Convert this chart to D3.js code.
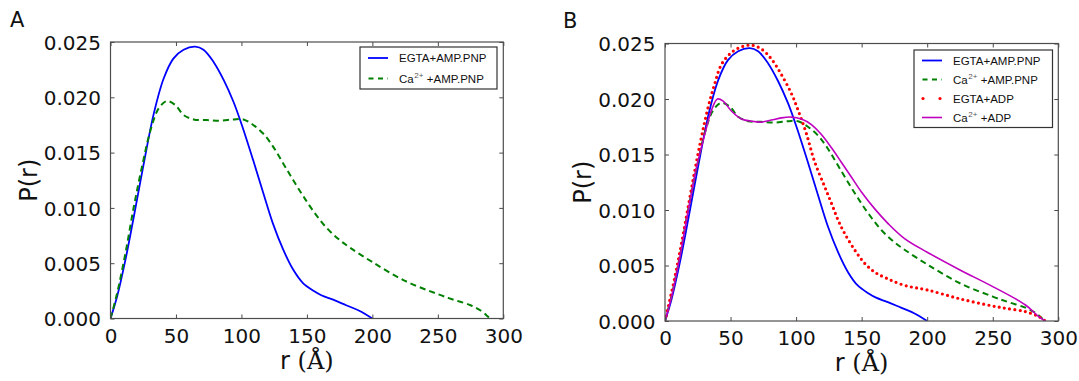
<!DOCTYPE html>
<html>
<head>
<meta charset="utf-8">
<script src="https://cdn.jsdelivr.net/npm/d3@7"></script>
<style>
html,body{margin:0;padding:0;background:#fff;}
svg{display:block;}
</style>
</head>
<body>
<svg id="chart" width="1079" height="381"></svg>
<script>
// ---- data ----
const xTicks = [0, 50, 100, 150, 200, 250, 300];
const yTicks = [0.000, 0.005, 0.010, 0.015, 0.020, 0.025];

const rEgtaAmp = [0,5,11.4,17.8,25.4,33,40.6,48,55.8,64.7,71,78.7,86.3,93.9,100.3,109,116.8,124,132,139.6,147,155,161,170,180,190,200];
const pEgtaAmp = [0,0.00196,0.0053,0.0092,0.014,0.0185,0.0217,0.0235,0.0243,0.02458,0.0243,0.0232,0.0216,0.0196,0.0175,0.0143,0.0113,0.0086,0.0062,0.0044,0.0032,0.0025,0.0021,0.0017,0.0012,0.0007,0];

const rCaAmp = [0,5,11.4,17.8,24,30.5,36.8,43,49.5,55.8,63.5,73.6,83.8,94,101.5,109,116.8,124.4,132,139.6,147,155,165,175,183,200,225,250,262,275,283,288,290];
const pCaAmp = [0,0.00226,0.0059,0.0101,0.0137,0.0170,0.0190,0.01966,0.0193,0.0184,0.0180,0.01794,0.01788,0.0180,0.0180,0.0175,0.0167,0.0155,0.0140,0.0125,0.0111,0.0097,0.0082,0.0071,0.0064,0.0051,0.0034,0.0022,0.0017,0.0012,0.0007,0.0002,0];

const rEgtaAdp = [0,7.6,14,20.3,26.6,33,38,43,50.8,58.4,66,73.6,81.2,88.8,96.4,101.5,107.8,114,121.8,127,132,137,144.7,152.3,160,170,183,200,225,250,260,275,285,290];
const pEgtaAdp = [0,0.0040,0.0079,0.0120,0.0159,0.0193,0.0214,0.0231,0.0242,0.0247,0.02485,0.0245,0.0236,0.0222,0.0205,0.019,0.0169,0.0144,0.0121,0.0106,0.0091,0.0079,0.0064,0.0052,0.0044,0.0038,0.0032,0.0028,0.0020,0.00135,0.00114,0.00084,0.0004,0];

const rCaAdp = [0,5,11.4,17.8,24,30.5,35.5,40,44.4,50.8,58.4,66,73.6,81.2,88.8,96.4,104,111.7,119.3,127,134.5,142,150,160,170,183,200,225,250,275,285,290];
const pCaAdp = [0,0.0022,0.0058,0.0100,0.0138,0.0169,0.0190,0.0200,0.0198,0.0189,0.0182,0.0180,0.01792,0.0181,0.0183,0.01837,0.0182,0.0177,0.0168,0.0156,0.0143,0.0130,0.0116,0.0101,0.0088,0.0074,0.0062,0.0046,0.0031,0.00144,0.0004,0];

const seriesNames = ["EGTA+AMP.PNP", "Ca2+AMP.PNP", "EGTA+ADP", "Ca2+ADP"];

// ---- styles ----
const styles = {
  egtaAmp: {color:"#0000ff", width:1.8, dash:null, dots:false},
  caAmp:   {color:"#008000", width:2.0, dash:"6 4", dots:false},
  egtaAdp: {color:"#ff0000", width:3.2, dash:"0 5.3", dots:true},
  caAdp:   {color:"#bf00bf", width:1.6, dash:null, dots:false}
};

const svg = d3.select("#chart");
svg.append("rect").attr("width",1079).attr("height",381).attr("fill","#fff");

function zip(r,p){ return r.map((v,i)=>({r:v,p:p[i]})); }

function panel(cfg){
  const g = svg.append("g");
  const x = d3.scaleLinear().domain([0,300]).range([cfg.left, cfg.right]);
  const y = d3.scaleLinear().domain([0,0.025]).range([cfg.bottom, cfg.top]);
  const clipId = "clip"+cfg.letter;
  svg.append("defs").append("clipPath").attr("id",clipId)
    .append("rect").attr("x",cfg.left).attr("y",cfg.top-3)
    .attr("width",cfg.right-cfg.left).attr("height",cfg.bottom-cfg.top+3);

  const line = d3.line().x(d=>x(d.r)).y(d=>y(d.p)).curve(d3.curveCatmullRom.alpha(0.5));
  const lg = g.append("g").attr("clip-path","url(#"+clipId+")");
  cfg.series.forEach(s=>{
    const st = styles[s.key];
    const path = lg.append("path").attr("d", line(zip(s.r,s.p)))
      .attr("fill","none").attr("stroke",st.color).attr("stroke-width",st.width);
    if (st.dash) path.attr("stroke-dasharray", st.dash);
    if (st.dots) path.attr("stroke-linecap","round");
  });

  // axes
  const tickCol = "#4a4a4a";
  const fmtY = d3.format(".3f");
  const bottomAxis = d3.axisBottom(x).tickValues(xTicks).tickFormat(d3.format("d"))
    .tickSizeInner(-4).tickSizeOuter(0).tickPadding(10.2);
  const topAxis = d3.axisTop(x).tickValues(xTicks).tickFormat("").tickSizeInner(-4).tickSizeOuter(0);
  const leftAxis = d3.axisLeft(y).tickValues(yTicks).tickFormat(fmtY)
    .tickSizeInner(-4).tickSizeOuter(0).tickPadding(9.5);
  const rightAxis = d3.axisRight(y).tickValues(yTicks).tickFormat("").tickSizeInner(-4).tickSizeOuter(0);

  const styleAxis = (sel)=>{
    sel.select(".domain").remove();
    sel.selectAll(".tick line").attr("stroke",tickCol).attr("stroke-width",1);
    sel.selectAll(".tick text").attr("fill","#111")
      .style("font-family","'DejaVu Sans'").style("font-size","20px");
  };
  g.append("g").attr("transform",`translate(0,${cfg.bottom})`).call(bottomAxis).call(styleAxis);
  g.append("g").attr("transform",`translate(0,${cfg.top})`).call(topAxis).call(styleAxis);
  g.append("g").attr("transform",`translate(${cfg.left},0)`).call(leftAxis).call(styleAxis)
    .selectAll(".tick text").attr("dy","0.36em");
  g.append("g").attr("transform",`translate(${cfg.right},0)`).call(rightAxis).call(styleAxis);

  g.append("rect").attr("x",cfg.left).attr("y",cfg.top)
    .attr("width",cfg.right-cfg.left).attr("height",cfg.bottom-cfg.top)
    .attr("fill","none").attr("stroke","#4d4d4d").attr("stroke-width",1.2);

  // axis titles
  g.append("text").attr("transform",`translate(${cfg.left-74},${(cfg.top+cfg.bottom)/2}) rotate(-90)`)
    .attr("text-anchor","middle").style("font-family","'DejaVu Sans'").style("font-size","24px")
    .attr("fill","#111").text("P(r)");
  const xt = g.append("text").attr("x",(cfg.left+cfg.right)/2).attr("y",cfg.bottom+50)
    .attr("text-anchor","middle").style("font-size","24px").attr("fill","#111");
  xt.append("tspan").style("font-family","'DejaVu Sans'").text("r ");
  xt.append("tspan").style("font-family","'DejaVu Serif'").text("(Å)");

  // panel letter
  g.append("text").attr("x",cfg.lx).attr("y",cfg.ly).style("font-family","'DejaVu Sans'")
    .style("font-size","21px").attr("fill","#111").text(cfg.letter);

  // legend
  const L = cfg.legend;
  g.append("rect").attr("x",L.x).attr("y",L.y).attr("width",L.w).attr("height",L.h)
    .attr("fill","#fff").attr("stroke","#333").attr("stroke-width",1.2);
  cfg.series.forEach((s,i)=>{
    const st = styles[s.key];
    const cy = L.rows[i];
    if (st.dots){
      [L.x+9, L.x+26].forEach(cx=>g.append("circle").attr("cx",cx).attr("cy",cy).attr("r",1.6).attr("fill",st.color));
    } else {
      const ln = g.append("line").attr("x1",L.x+8).attr("x2",L.x+28).attr("y1",cy).attr("y2",cy)
        .attr("stroke",st.color).attr("stroke-width",st.width);
      if (st.dash) ln.attr("stroke-dasharray","5 4.5").attr("x1",L.x+8.5);
    }
    const t = g.append("text").attr("x",L.x+39).attr("y",cy+4.2)
      .style("font-family","'Liberation Sans'").style("font-size","11.5px").attr("fill","#111");
    const name = s.name;
    if (name.startsWith("Ca2+")){
      t.append("tspan").text("Ca");
      t.append("tspan").attr("dy",-4.5).attr("dx",0.5).style("font-size","8px").attr("fill","#555").text("2+");
      t.append("tspan").attr("dy",4.5).attr("dx",3.5).text("+" + name.slice(4));
    } else {
      t.text(name);
    }
  });
}

panel({
  letter:"A", lx:10, ly:26.7,
  left:110.5, right:503.3, top:42, bottom:318.5,
  legend:{x:360, y:47, w:137, h:42, rows:[58, 78.5]},
  series:[
    {key:"egtaAmp", name:seriesNames[0], r:rEgtaAmp, p:pEgtaAmp},
    {key:"caAmp",   name:seriesNames[1], r:rCaAmp,   p:pCaAmp}
  ]
});

panel({
  letter:"B", lx:563, ly:28.3,
  left:665, right:1058.3, top:43.5, bottom:321,
  legend:{x:914, y:50, w:138.5, h:77.5, rows:[60.5, 79.5, 98.5, 117.5]},
  series:[
    {key:"egtaAmp", name:seriesNames[0], r:rEgtaAmp, p:pEgtaAmp},
    {key:"caAmp",   name:seriesNames[1], r:rCaAmp,   p:pCaAmp},
    {key:"egtaAdp", name:seriesNames[2], r:rEgtaAdp, p:pEgtaAdp},
    {key:"caAdp",   name:seriesNames[3], r:rCaAdp,   p:pCaAdp}
  ]
});
</script>
</body>
</html>
